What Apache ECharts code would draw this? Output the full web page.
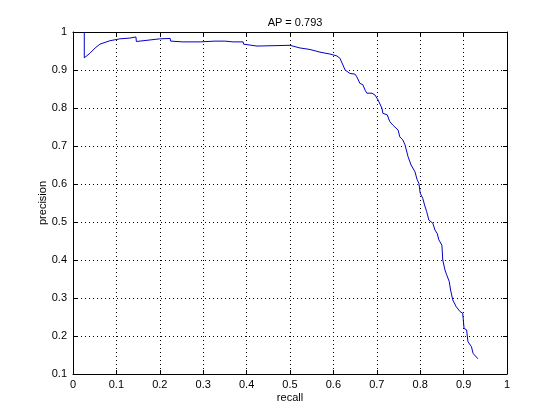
<!DOCTYPE html>
<html>
<head>
<meta charset="utf-8">
<script src="https://cdn.jsdelivr.net/npm/echarts@6/dist/echarts.min.js"></script>
<style>html,body{margin:0;padding:0;background:#fff;}#c{width:560px;height:420px;}</style>
</head>
<body>
<div id="c"></div>
<script>
const titleText = "AP = 0.793";
const xName = "recall";
const yName = "precision";
const recall = [0.026,0.026,0.039,0.051,0.062,0.085,0.108,0.131,0.145,0.146,0.200,0.224,0.225,0.253,0.254,0.293,0.327,0.350,0.351,0.369,0.392,0.393,0.424,0.500,0.523,0.546,0.569,0.592,0.608,0.615,0.622,0.627,0.638,0.650,0.654,0.661,0.668,0.673,0.677,0.689,0.696,0.703,0.712,0.714,0.724,0.730,0.737,0.749,0.753,0.760,0.765,0.770,0.772,0.779,0.783,0.788,0.793,0.797,0.800,0.806,0.810,0.815,0.820,0.829,0.834,0.839,0.843,0.850,0.852,0.857,0.861,0.867,0.870,0.875,0.883,0.892,0.898,0.901,0.907,0.910,0.918,0.922,0.933];
const precision = [1.000,0.932,0.944,0.958,0.968,0.977,0.982,0.984,0.987,0.975,0.982,0.983,0.976,0.974,0.969,0.974,0.976,0.976,0.971,0.974,0.974,0.968,0.963,0.965,0.958,0.954,0.947,0.942,0.937,0.931,0.913,0.900,0.891,0.889,0.882,0.865,0.861,0.847,0.839,0.839,0.834,0.821,0.799,0.786,0.782,0.764,0.755,0.742,0.724,0.716,0.703,0.681,0.672,0.650,0.646,0.632,0.611,0.602,0.576,0.562,0.545,0.527,0.505,0.497,0.479,0.470,0.453,0.439,0.400,0.374,0.361,0.343,0.321,0.295,0.277,0.264,0.260,0.220,0.216,0.185,0.172,0.154,0.140];

const pts = recall.map((r, i) => [r, precision[i]]);
const font = "'Liberation Sans', Arial, sans-serif";
const chart = echarts.init(document.getElementById('c'), null, {renderer: 'canvas'});
const axLine = {show: true, onZero: false, lineStyle: {color: '#000', width: 1}};
const grid = {show: true, lineStyle: {color: '#000', type: [1, 3], width: 1}};
chart.setOption({
  animation: false,
  backgroundColor: '#fff',
  title: {text: titleText, left: 290, top: 12, textAlign: 'center',
    textStyle: {fontFamily: font, fontSize: 11, fontWeight: 'normal', color: '#000'}},
  grid: {left: 73, right: 53, top: 32, bottom: 46},
  xAxis: [
    {type: 'value', min: 0, max: 1, interval: 0.1, position: 'bottom',
     name: xName, nameLocation: 'middle', nameGap: 18, nameMoveOverlap: false,
     nameTextStyle: {fontFamily: font, fontSize: 11, color: '#000'},
     axisLine: axLine, axisTick: {show: true, inside: true, length: 4, lineStyle: {color: '#000'}},
     axisLabel: {fontFamily: font, fontSize: 11, color: '#000', margin: 5},
     splitLine: grid},
    {type: 'value', min: 0, max: 1, interval: 0.1, position: 'top',
     axisLine: axLine, axisTick: {show: true, inside: true, length: 4, lineStyle: {color: '#000'}},
     axisLabel: {show: false}, splitLine: {show: false}}
  ],
  yAxis: [
    {type: 'value', min: 0.1, max: 1, interval: 0.1, position: 'left',
     name: yName, nameLocation: 'middle', nameGap: 25, nameRotate: 90, nameMoveOverlap: false,
     nameTextStyle: {fontFamily: font, fontSize: 11, color: '#000'},
     axisLine: axLine, axisTick: {show: true, inside: true, length: 4, lineStyle: {color: '#000'}},
     axisLabel: {fontFamily: font, fontSize: 11, color: '#000', margin: 6,
       formatter: v => String(Math.round(v * 10) / 10)},
     splitLine: grid},
    {type: 'value', min: 0.1, max: 1, interval: 0.1, position: 'right',
     axisLine: axLine, axisTick: {show: true, inside: true, length: 4, lineStyle: {color: '#000'}},
     axisLabel: {show: false}, splitLine: {show: false}}
  ],
  series: [{
    type: 'line', data: pts, showSymbol: false, symbol: 'none',
    xAxisIndex: 0, yAxisIndex: 0,
    lineStyle: {color: '#0000c8', width: 1}
  }]
});
</script>
</body>
</html>
